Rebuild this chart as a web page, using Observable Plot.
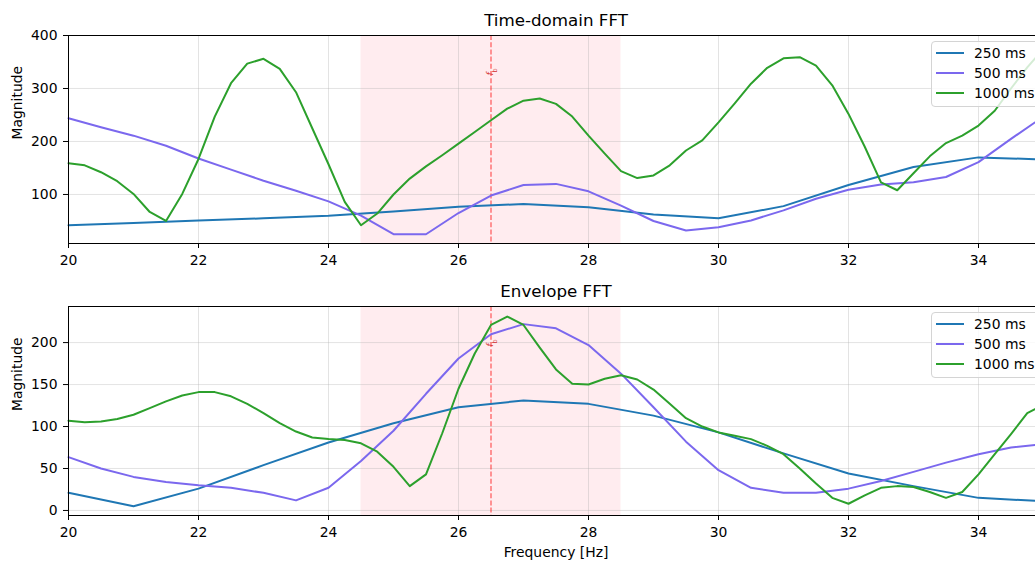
<!DOCTYPE html>
<html>
<head>
<meta charset="utf-8">
<script src="https://cdn.jsdelivr.net/npm/d3@7"></script>
<script src="https://cdn.jsdelivr.net/npm/@observablehq/plot@0.6"></script>
<style>
html,body{margin:0;padding:0;overflow:hidden;background:#fff;}
#root{position:relative;width:1035px;height:563px;overflow:hidden;font-family:"DejaVu Sans",sans-serif;background:#fff;}
svg.panel{position:absolute;left:0;max-width:none !important;width:1045px !important;}
.legend{position:absolute;width:118px;background:rgba(255,255,255,0.8);border:1px solid #d4d4d4;border-radius:4px;padding:1px 0 3px 0;font-size:13.9px;color:#000;box-sizing:content-box;}
.legend .row{display:flex;align-items:center;height:20px;line-height:20px;white-space:nowrap;}
.legend .sw{width:28px;height:2px;margin-left:4px;margin-right:10px;}
</style>
</head>
<body>
<div id="root"></div>
<script>
// ---- data ----
const seriesNames = ["250 ms", "500 ms", "1000 ms"];
const seriesColors = ["#1f77b4", "#7b68ee", "#2ca02c"];
// frequency grids (Hz) for each window length
const freq250 = d3.range(20, 35.001, 1);
const freq500 = d3.range(20, 35.001, 0.5);
const freq1000 = d3.range(20, 35.001, 0.25);

const xTicks = [20, 22, 24, 26, 28, 30, 32, 34];
const topYTicks = [100, 200, 300, 400];
const botYTicks = [0, 50, 100, 150, 200];

const bandHz = [24.5, 28.5];
const fbHz = 26.5;

// Time-domain FFT
const time250 = [42, 46, 51, 55, 60, 68, 77, 82, 76, 62, 55, 78, 118, 152, 170, 166];
const time500 = [244, 227, 211, 192, 168, 147, 126, 107, 87, 60, 25, 25, 65, 98, 118, 120,
  106, 79, 50, 32, 38, 51, 70, 92, 109, 119, 123, 133, 161, 205, 247];
const time1000 = [159, 155, 142, 125, 101, 67, 50, 101, 167, 247, 310, 347, 356, 337, 293, 225,
  157, 86, 42, 64, 100, 130, 153, 174, 196, 218, 240, 262, 277, 281, 271, 247,
  211, 177, 144, 131, 136, 155, 183, 202, 236, 272, 309, 339, 357, 359, 343, 306,
  252, 190, 123, 108, 140, 172, 197, 211, 230, 258, 300, 340, 375];

// Envelope FFT
const env250 = [21, 5, 26, 54, 81, 104, 123, 131, 127, 113, 93, 68, 44, 29, 15, 11];
const env500 = [63.5, 50, 40, 34, 30, 27, 21, 12, 27, 59, 95, 139, 181, 210, 222, 217,
  197, 163, 123, 82, 48, 27, 21, 21, 26, 35, 46, 57, 67, 75, 79];
const env1000 = [107, 105, 106, 109, 114, 122, 130, 137, 141, 141, 136, 127, 116, 104, 94, 87,
  85, 84, 80, 70, 52, 29, 43, 92, 145, 187, 221, 231, 221, 194, 168, 151,
  150, 157, 161, 156, 144, 127, 110, 100, 93, 89, 85, 77, 67, 50, 32, 15,
  8, 18, 27, 29, 28, 22, 15, 22, 43, 67, 91, 116, 126];

const freqGrids = [freq250, freq500, freq1000];

function makePanel(cfg) {
  const rows = [];
  cfg.series.forEach((vals, i) => {
    const fr = freqGrids[i];
    vals.forEach((v, j) => rows.push({f: fr[j], v: v, s: seriesNames[i]}));
  });
  const [y0, y1] = cfg.yDomain;
  const marks = [
    Plot.rect([bandHz], {x1: d => d[0], x2: d => d[1], fill: "#ffc0cb", fillOpacity: 0.3}),
    Plot.gridX(xTicks, {stroke: "#b0b0b0", strokeOpacity: 0.35, strokeWidth: 1}),
    Plot.gridY(cfg.yTicks, {stroke: "#b0b0b0", strokeOpacity: 0.35, strokeWidth: 1}),
    Plot.ruleX([fbHz], {stroke: "#ff0000", strokeOpacity: 0.55, strokeWidth: 1.4, strokeDasharray: "5,2.2"}),
    Plot.line(rows, {x: "f", y: "v", z: "s", stroke: "s", strokeWidth: 2}),
    Plot.text([fbHz], {x: d => d, y: () => y0 + 0.825 * (y1 - y0), text: () => "f_b", rotate: -90,
      fill: "#d43a3a", fontSize: 9, dx: -1}),
    Plot.frame({stroke: "#000", strokeWidth: 1}),
    Plot.axisX(xTicks, {tickSize: 5, tickPadding: 7, label: null}),
    Plot.axisY(cfg.yTicks, {tickSize: 5, tickPadding: 6, label: null}),
    Plot.text(["Magnitude"], {text: d => d, frameAnchor: "left", dx: -51, rotate: -90, fontSize: 13.9}),
    Plot.text([cfg.title], {text: d => d, frameAnchor: "top", dy: -14.5, fontSize: 16.7, lineAnchor: "middle"})
  ];
  if (cfg.xLabel) {
    marks.push(Plot.text([cfg.xLabel], {text: d => d, frameAnchor: "bottom", dy: 37, fontSize: 13.9, lineAnchor: "middle"}));
  }
  const svg = Plot.plot({
    width: 1045,
    height: cfg.height,
    marginLeft: 68,
    marginRight: 2,
    marginTop: cfg.marginTop,
    marginBottom: cfg.marginBottom,
    x: {domain: [20, 35]},
    y: {domain: cfg.yDomain},
    color: {domain: seriesNames, range: seriesColors},
    style: {fontFamily: "DejaVu Sans, sans-serif", fontSize: "13.9px", color: "#000", background: "transparent", overflow: "visible", maxWidth: "none"},
    marks: marks
  });
  // mathtext-like subscript for f_b
  const ns = "http://www.w3.org/2000/svg";
  svg.querySelectorAll("text").forEach(t => {
    if (t.textContent === "f_b") {
      t.textContent = "";
      const a = document.createElementNS(ns, "tspan");
      a.textContent = "f";
      a.setAttribute("font-style", "italic");
      const b = document.createElementNS(ns, "tspan");
      b.textContent = "b";
      b.setAttribute("baseline-shift", "sub");
      b.setAttribute("font-size", "6.5");
      t.append(a, b);
    }
  });
  return svg;
}

function makeLegend(topPx) {
  const div = document.createElement("div");
  div.className = "legend";
  div.style.left = "931px";
  div.style.top = topPx + "px";
  seriesNames.forEach((name, i) => {
    const row = document.createElement("div");
    row.className = "row";
    const sw = document.createElement("span");
    sw.className = "sw";
    sw.style.background = seriesColors[i];
    const lab = document.createElement("span");
    lab.textContent = name;
    row.append(sw, lab);
    div.append(row);
  });
  return div;
}

const root = document.getElementById("root");

const topPanel = makePanel({
  title: "Time-domain FFT",
  series: [time250, time500, time1000],
  yDomain: [7.5, 400],
  yTicks: topYTicks,
  height: 280, marginTop: 35, marginBottom: 37
});
topPanel.classList.add("panel");
topPanel.style.top = "0px";
root.append(topPanel);

const botPanel = makePanel({
  title: "Envelope FFT",
  series: [env250, env500, env1000],
  yDomain: [-6, 243],
  yTicks: botYTicks,
  height: 283, marginTop: 26, marginBottom: 48,
  xLabel: "Frequency [Hz]"
});
botPanel.classList.add("panel");
botPanel.style.top = "280px";
root.append(botPanel);

root.append(makeLegend(41));
root.append(makeLegend(312));
</script>
</body>
</html>
